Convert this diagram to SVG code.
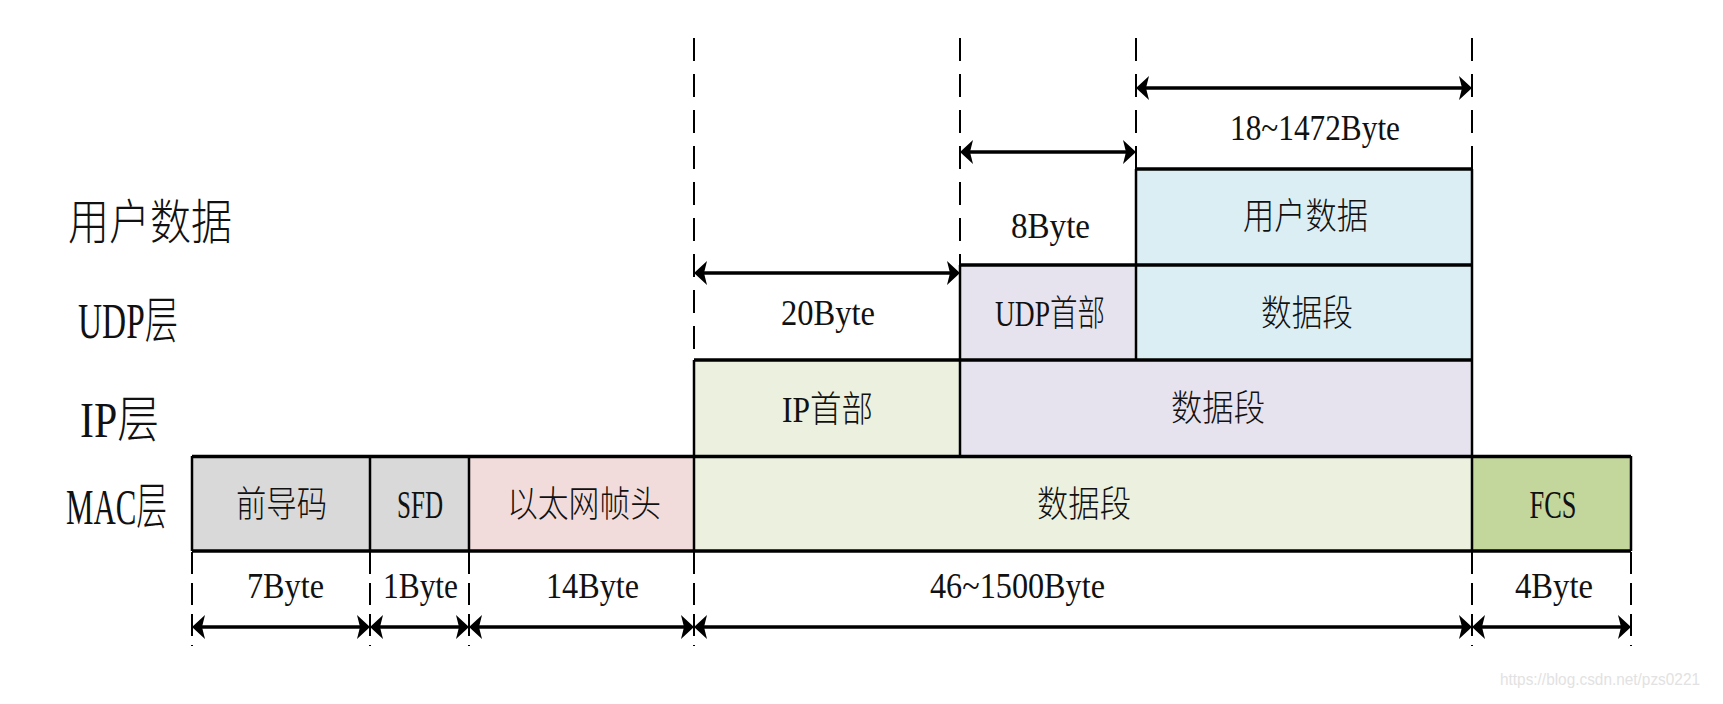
<svg xmlns="http://www.w3.org/2000/svg" width="1723" height="704" viewBox="0 0 1723 704">
<style>
.t{font-family:"Liberation Serif","Noto Sans CJK SC",serif;fill:#111;font-weight:300}
.lbl{font-size:50px}
.box{font-size:36px;text-anchor:middle}
.dim{font-size:35px;text-anchor:middle}
.h{stroke:#000;stroke-width:3.5;fill:none}
.v{stroke:#000;stroke-width:2.5;fill:none}
.dt{stroke:#000;stroke-width:2;stroke-dasharray:23 13;fill:none}
.db{stroke:#000;stroke-width:2;stroke-dasharray:22 9;fill:none}
.arr{stroke:#000;stroke-width:3.5;fill:none;marker-start:url(#ah);marker-end:url(#ah)}
.gray{fill:#d9d9d9}.pink{fill:#f2dcdb}.lg{fill:#ebf1de}.fcs{fill:#c3d69b}.lav{fill:#e7e3ee}.blue{fill:#dbeef4}
</style>
<defs>
<marker id="ah" markerUnits="userSpaceOnUse" markerWidth="16" markerHeight="26" viewBox="-8 -13 16 26" refX="0" refY="0" orient="auto-start-reverse">
<path d="M6,0 L-7,-12 L-4,0 L-7,12 Z" fill="#000"/>
</marker>
</defs>
<rect width="1723" height="704" fill="#fff"/>

<g id="layer-labels">
<text class="t lbl" x="68" y="239" textLength="164" lengthAdjust="spacingAndGlyphs" style="font-size:48px">用户数据</text>
<text class="t lbl" x="78" y="338" textLength="100" lengthAdjust="spacingAndGlyphs">UDP层</text>
<text class="t lbl" x="80" y="437" textLength="79" lengthAdjust="spacingAndGlyphs">IP层</text>
<text class="t lbl" x="66" y="524" textLength="101" lengthAdjust="spacingAndGlyphs">MAC层</text>
</g>

<g id="mac-preamble"><rect class="gray" x="192" y="456" width="178" height="95"/><text class="t box" x="281.5" y="517" textLength="91" lengthAdjust="spacingAndGlyphs">前导码</text></g>
<g id="mac-sfd"><rect class="gray" x="370" y="456" width="99" height="95"/><text class="t box" x="420" y="518" textLength="46" lengthAdjust="spacingAndGlyphs" style="font-size:39px">SFD</text></g>
<g id="mac-header"><rect class="pink" x="469" y="456" width="225" height="95"/><text class="t box" x="584" y="517" textLength="154" lengthAdjust="spacingAndGlyphs">以太网帧头</text></g>
<g id="mac-data"><rect class="lg" x="694" y="456" width="778" height="95"/><text class="t box" x="1084" y="517" textLength="94" lengthAdjust="spacingAndGlyphs">数据段</text></g>
<g id="mac-fcs"><rect class="fcs" x="1472" y="456" width="159" height="95"/><text class="t box" x="1553" y="518" textLength="47" lengthAdjust="spacingAndGlyphs" style="font-size:39px">FCS</text></g>

<g id="ip-header"><rect class="lg" x="694" y="360" width="266" height="96"/><text class="t box" x="827.5" y="422" textLength="91" lengthAdjust="spacingAndGlyphs">IP首部</text></g>
<g id="ip-data"><rect class="lav" x="960" y="360" width="512" height="96"/><text class="t box" x="1218" y="421" textLength="94" lengthAdjust="spacingAndGlyphs">数据段</text></g>

<g id="udp-header"><rect class="lav" x="960" y="265" width="176" height="95"/><text class="t box" x="1050" y="326" textLength="110" lengthAdjust="spacingAndGlyphs">UDP首部</text></g>
<g id="udp-data"><rect class="blue" x="1136" y="265" width="336" height="95"/><text class="t box" x="1307" y="326" textLength="92" lengthAdjust="spacingAndGlyphs">数据段</text></g>

<g id="user-data"><rect class="blue" x="1136" y="169" width="336" height="96"/><text class="t box" x="1305.5" y="229" textLength="125" lengthAdjust="spacingAndGlyphs">用户数据</text></g>

<g id="borders">
<line class="h" x1="192" y1="456.5" x2="1631" y2="456.5"/>
<line class="h" x1="192" y1="551" x2="1631" y2="551"/>
<line class="h" x1="694" y1="360" x2="1472" y2="360"/>
<line class="h" x1="960" y1="265" x2="1472" y2="265"/>
<line class="h" x1="1136" y1="169" x2="1472" y2="169"/>
<line class="v" x1="192" y1="456" x2="192" y2="551"/>
<line class="v" x1="370" y1="456" x2="370" y2="551"/>
<line class="v" x1="469" y1="456" x2="469" y2="551"/>
<line class="v" x1="694" y1="360" x2="694" y2="551"/>
<line class="v" x1="1472" y1="169" x2="1472" y2="551"/>
<line class="v" x1="1631" y1="456" x2="1631" y2="551"/>
<line class="v" x1="960" y1="265" x2="960" y2="456"/>
<line class="v" x1="1136" y1="169" x2="1136" y2="360"/>
</g>

<g id="connectors">
<line class="dt" x1="694" y1="38" x2="694" y2="360"/>
<line class="dt" x1="960" y1="38" x2="960" y2="265"/>
<line class="dt" x1="1136" y1="38" x2="1136" y2="169"/>
<line class="dt" x1="1472" y1="38" x2="1472" y2="169"/>
<line class="db" x1="192" y1="552" x2="192" y2="646"/>
<line class="db" x1="370" y1="552" x2="370" y2="646"/>
<line class="db" x1="469" y1="552" x2="469" y2="646"/>
<line class="db" x1="694" y1="552" x2="694" y2="646"/>
<line class="db" x1="1472" y1="552" x2="1472" y2="646"/>
<line class="db" x1="1631" y1="552" x2="1631" y2="646"/>
<line class="arr" x1="1142" y1="88" x2="1466" y2="88"/>
<line class="arr" x1="966" y1="152" x2="1130" y2="152"/>
<line class="arr" x1="700" y1="273" x2="954" y2="273"/>
<line class="arr" x1="198" y1="627" x2="364" y2="627"/>
<line class="arr" x1="376" y1="627" x2="463" y2="627"/>
<line class="arr" x1="475" y1="627" x2="688" y2="627"/>
<line class="arr" x1="700" y1="627" x2="1466" y2="627"/>
<line class="arr" x1="1478" y1="627" x2="1625" y2="627"/>
</g>

<g id="dimension-labels">
<text class="t dim" x="1315" y="140" textLength="170" lengthAdjust="spacingAndGlyphs">18~1472Byte</text>
<text class="t dim" x="1050.5" y="238" textLength="79" lengthAdjust="spacingAndGlyphs">8Byte</text>
<text class="t dim" x="828" y="325" textLength="94" lengthAdjust="spacingAndGlyphs">20Byte</text>
<text class="t dim" x="285.5" y="598" textLength="77" lengthAdjust="spacingAndGlyphs">7Byte</text>
<text class="t dim" x="420.5" y="598" textLength="75" lengthAdjust="spacingAndGlyphs">1Byte</text>
<text class="t dim" x="592.5" y="598" textLength="93" lengthAdjust="spacingAndGlyphs">14Byte</text>
<text class="t dim" x="1017.5" y="598" textLength="175" lengthAdjust="spacingAndGlyphs">46~1500Byte</text>
<text class="t dim" x="1554" y="598" textLength="78" lengthAdjust="spacingAndGlyphs">4Byte</text>
</g>

<text x="1500" y="685" font-family="Liberation Sans, sans-serif" font-size="17" fill="#e2e2e2" textLength="200" lengthAdjust="spacingAndGlyphs">https://blog.csdn.net/pzs0221</text>
</svg>
